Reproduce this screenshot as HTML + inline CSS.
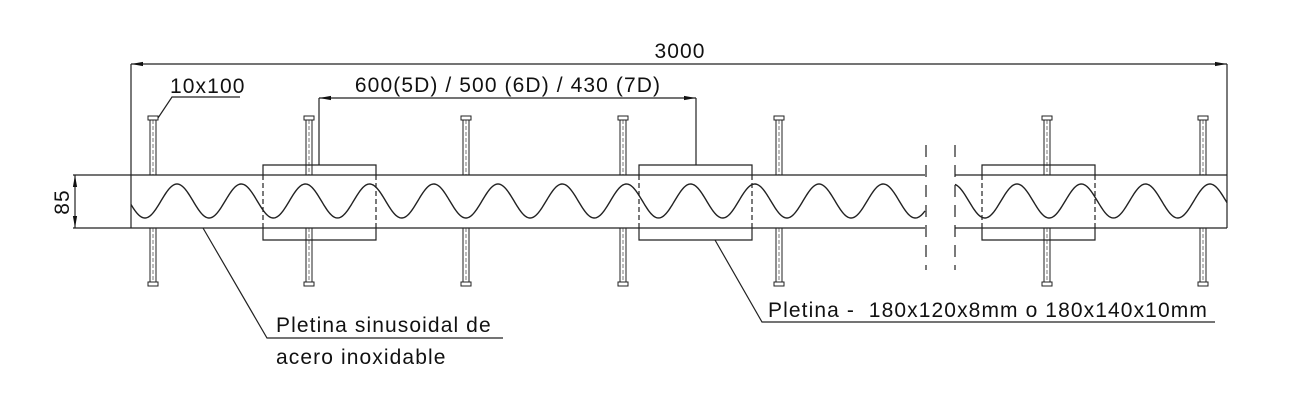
<!DOCTYPE html>
<html><head><meta charset="utf-8"><style>
html,body{margin:0;padding:0;background:#fff;width:1300px;height:411px;overflow:hidden}
svg{display:block}
text{font-family:"Liberation Sans",sans-serif;fill:#111;font-size:21px;letter-spacing:1.1px}
</style></head><body>
<svg id="s" width="1300" height="411" viewBox="0 0 1300 411" xmlns="http://www.w3.org/2000/svg">
<defs><marker id="a" markerWidth="12" markerHeight="6" refX="12" refY="3" orient="auto-start-reverse" markerUnits="userSpaceOnUse"><path d="M12,3 L0,0.9 L0,5.1Z" fill="#111"/></marker></defs>
<g stroke="#222" stroke-width="1.2" fill="none">
<line x1="131" y1="64" x2="1227" y2="64" marker-start="url(#a)" marker-end="url(#a)"/>
<line x1="131" y1="64" x2="131" y2="228"/>
<line x1="1227" y1="64" x2="1227" y2="228"/>
<line x1="73" y1="175" x2="925" y2="175"/>
<line x1="73" y1="228" x2="925" y2="228"/>
<line x1="955" y1="175" x2="1227" y2="175"/>
<line x1="955" y1="228" x2="1227" y2="228"/>
<line x1="75" y1="175" x2="75" y2="228" marker-start="url(#a)" marker-end="url(#a)"/>
<line x1="926" y1="145" x2="926" y2="270" stroke-dasharray="12,8"/>
<line x1="955" y1="145" x2="955" y2="270" stroke-dasharray="12,8"/>
<path d="M263,175 V165 H376 V175 M263,228 V240 H376 V228"/>
<path d="M639,175 V165 H752 V175 M639,228 V240 H752 V228"/>
<path d="M982,175 V165 H1095 V175 M982,228 V240 H1095 V228"/>
<g stroke-dasharray="5,3">
<line x1="263" y1="175" x2="263" y2="228"/><line x1="376" y1="175" x2="376" y2="228"/>
<line x1="639" y1="175" x2="639" y2="228"/><line x1="752" y1="175" x2="752" y2="228"/>
<line x1="982" y1="175" x2="982" y2="228"/><line x1="1095" y1="175" x2="1095" y2="228"/>
</g>
<line x1="319" y1="98" x2="696" y2="98" marker-start="url(#a)" marker-end="url(#a)"/>
<line x1="319" y1="98" x2="319" y2="165"/>
<line x1="696" y1="98" x2="696" y2="165"/>
<path d="M158,118 L172,97 H240"/>
<path d="M203,228 L267,338 H503"/>
<path d="M715,240 L762,322 H1215"/>
<path id="w1" stroke-width="1.4"/>
<path id="w2" stroke-width="1.4"/>
<g id="bolts" stroke-width="1"></g>
</g>
<text x="680" y="58" text-anchor="middle">3000</text>
<text x="170" y="93">10x100</text>
<text x="508" y="92" text-anchor="middle">600(5D) / 500 (6D) / 430 (7D)</text>
<text x="62" y="202" text-anchor="middle" transform="rotate(-90 62 202)" dy="7">85</text>
<text x="276" y="332">Pletina sinusoidal de</text>
<text x="276" y="364">acero inoxidable</text>
<text x="768" y="317" xml:space="preserve">Pletina -  180x120x8mm o 180x140x10mm</text>
</svg>
<script>
function wave(x0,x1,peak,per){let d="";for(let x=x0;x<=x1;x+=1){let y=201-17*Math.cos(2*Math.PI*(x-peak)/per);d+=(d?"L":"M")+x+","+y.toFixed(2);}return d;}
document.getElementById("w1").setAttribute("d",wave(131,925,177,64.2));
document.getElementById("w2").setAttribute("d",wave(955,1227,1017,64.3));
let g=document.getElementById("bolts"),h="";
[153,309,466,623,779,1047,1203].forEach(x=>{
h+=`<rect x="${x-5}" y="116" width="10" height="4"/><rect x="${x-5}" y="282" width="10" height="4"/>`;
h+=`<line x1="${x-3}" y1="120" x2="${x-3}" y2="175"/><line x1="${x+3}" y1="120" x2="${x+3}" y2="175"/>`;
h+=`<line x1="${x-3}" y1="228" x2="${x-3}" y2="282"/><line x1="${x+3}" y1="228" x2="${x+3}" y2="282"/>`;
h+=`<line x1="${x}" y1="120" x2="${x}" y2="175" stroke-dasharray="4,2" stroke-width="0.6"/><line x1="${x}" y1="228" x2="${x}" y2="282" stroke-dasharray="4,2" stroke-width="0.6"/>`;
});
g.innerHTML=h;
</script>
</body></html>
